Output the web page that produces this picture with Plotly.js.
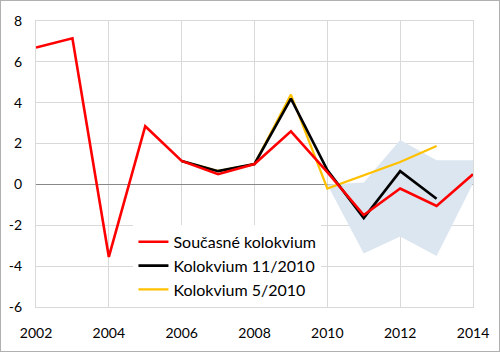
<!DOCTYPE html>
<html>
<head>
<meta charset="utf-8">
<script src="https://cdn.plot.ly/plotly-3.0.1.min.js"></script>
<style>
html,body{margin:0;padding:0;background:#fff;}
#chart{width:498px;height:350px;border:1px solid #b0b0b0;}
</style>
</head>
<body>
<div id="chart"></div>
<script>
// Data
const yearsCurrent = [2002,2003,2004,2005,2006,2007,2008,2009,2010,2011,2012,2013,2014];
const current      = [6.7, 7.15, -3.55, 2.85, 1.15, 0.5, 1.0, 2.6, 0.6, -1.5, -0.2, -1.05, 0.5];

const yearsNov = [2006,2007,2008,2009,2010,2011,2012,2013];
const nov2010  = [1.15, 0.65, 1.0, 4.2, 0.7, -1.65, 0.65, -0.7];

const yearsMay = [2006,2007,2008,2009,2010,2011,2012,2013];
const may2010  = [1.15, 0.65, 1.0, 4.4, -0.2, 0.45, 1.1, 1.88];

const yearsBand = [2010,2011,2012,2013,2014];
const bandUpper = [0, 0.1, 2.17, 1.18, 1.18];
const bandLower = [0, -3.38, -2.55, -3.5, 0.05];

const names = ["Současné kolokvium","Kolokvium 11/2010","Kolokvium 5/2010"];
const xTicks = [2002,2004,2006,2008,2010,2012,2014];
const yTicks = [-6,-4,-2,0,2,4,6,8];

const bandX = yearsBand.concat(yearsBand.slice().reverse());
const bandY = bandUpper.concat(bandLower.slice().reverse());

const traces = [
  {x: bandX, y: bandY, type:'scatter', mode:'lines', fill:'toself',
   fillcolor:'#dce6f0', line:{width:0, color:'#dce6f0'}, showlegend:false, hoverinfo:'skip'},
  {x: yearsMay, y: may2010, name: names[2], type:'scatter', mode:'lines',
   line:{color:'#ffc000', width:2.2}, legendrank:3},
  {x: yearsNov, y: nov2010, name: names[1], type:'scatter', mode:'lines',
   line:{color:'#000000', width:2.6}, legendrank:2},
  {x: yearsCurrent, y: current, name: names[0], type:'scatter', mode:'lines',
   line:{color:'#ff0000', width:2.6}, legendrank:1}
];

const layout = {
  width:498, height:350,
  margin:{l:34.7, r:25.7, t:19.7, b:44.3},
  paper_bgcolor:'#ffffff', plot_bgcolor:'#ffffff',
  font:{family:'Lato, "Open Sans", sans-serif', size:14, color:'#000'},
  showlegend:true,
  legend:{x:0.223, y:0.287, xanchor:'left', yanchor:'top', bgcolor:'#ffffff',
          font:{size:16}, tracegroupgap:0, itemwidth:30},
  xaxis:{range:[2002,2014], tickvals:xTicks, ticktext:xTicks.map(String),
         showgrid:true, gridcolor:'#d9d9d9', gridwidth:1, zeroline:false,
         showline:true, linecolor:'#d9d9d9', mirror:true, ticks:'', ticklabelstandoff:13},
  yaxis:{range:[-6,8], tickvals:yTicks, ticktext:yTicks.map(String),
         showgrid:true, gridcolor:'#d9d9d9', gridwidth:1,
         zeroline:true, zerolinecolor:'#888888', zerolinewidth:1,
         showline:true, linecolor:'#d9d9d9', mirror:true, ticks:'', ticklabelstandoff:10}
};

Plotly.newPlot('chart', traces, layout, {displayModeBar:false, staticPlot:true});
</script>
</body>
</html>
